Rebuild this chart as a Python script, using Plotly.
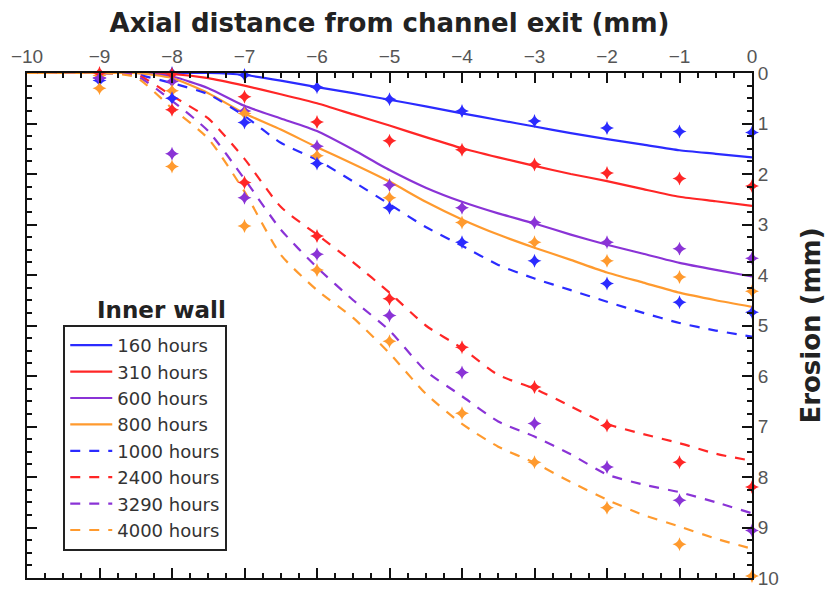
import plotly.graph_objects as go

# Measurement positions (mm from channel exit) and eroded depth (mm)
x_meas = [-9, -8, -7, -6, -5, -4, -3, -2, -1, 0]
meas_160 = [0.10, 0.00, 0.04, 0.28, 0.52, 0.75, 0.95, 1.09, 1.16, 1.18]
meas_310 = [-0.05, 0.02, 0.47, 0.97, 1.34, 1.52, 1.81, 1.98, 2.09, 2.24]
meas_600 = [0.10, 0.17, 0.75, 1.45, 2.22, 2.67, 2.96, 3.35, 3.48, 3.67]
meas_800 = [0.05, 0.35, 0.80, 1.64, 2.47, 2.96, 3.35, 3.72, 4.04, 4.32]
meas_1000 = [0.15, 0.50, 0.98, 1.79, 2.67, 3.35, 3.72, 4.17, 4.54, 4.74]
meas_2400 = [0.00, 0.73, 2.17, 3.23, 4.47, 5.43, 6.22, 6.98, 7.71, 8.20]
meas_3290 = [0.10, 1.60, 2.47, 3.59, 4.80, 5.93, 6.94, 7.80, 8.46, 9.06]
meas_4000 = [0.30, 1.85, 3.03, 3.90, 5.31, 6.74, 7.71, 8.61, 9.33, 9.96]

# Simulated erosion profiles
x_sim = [-10, -9, -8.5, -8, -7.5, -7, -6.5, -6, -5.5, -5,
         -4.5, -4, -3.5, -3, -2.5, -2, -1.5, -1, -0.5, 0]
sim_160 = [0, 0, 0, 0, 0.0, 0.04, 0.15, 0.28, 0.40, 0.53,
           0.66, 0.80, 0.93, 1.06, 1.19, 1.31, 1.42, 1.53, 1.60, 1.67]
sim_310 = [0, 0, 0, 0.02, 0.10, 0.25, 0.42, 0.60, 0.82, 1.04,
           1.27, 1.49, 1.67, 1.84, 2.00, 2.14, 2.30, 2.45, 2.54, 2.63]
sim_600 = [0, 0, 0, 0.07, 0.30, 0.65, 0.90, 1.15, 1.52, 1.92,
           2.27, 2.55, 2.78, 2.98, 3.20, 3.40, 3.58, 3.76, 3.90, 4.03]
sim_800 = [0, 0, 0, 0.10, 0.40, 0.80, 1.12, 1.47, 1.80, 2.15,
           2.55, 2.90, 3.20, 3.46, 3.70, 3.95, 4.15, 4.35, 4.50, 4.63]
sim_1000 = [0, 0, 0.03, 0.20, 0.42, 0.85, 1.38, 1.72, 2.15, 2.60,
            3.05, 3.42, 3.80, 4.07, 4.30, 4.53, 4.75, 4.95, 5.10, 5.22]
sim_2400 = [0, 0, 0.02, 0.45, 0.90, 1.70, 2.65, 3.20, 3.75, 4.35,
            5.00, 5.45, 5.98, 6.25, 6.60, 6.95, 7.15, 7.33, 7.54, 7.68]
sim_3290 = [0, 0, 0.05, 0.55, 1.15, 2.10, 3.10, 3.85, 4.50, 5.10,
            5.90, 6.40, 6.90, 7.20, 7.55, 7.95, 8.15, 8.30, 8.50, 8.72]
sim_4000 = [0, 0, 0.08, 0.70, 1.30, 2.35, 3.60, 4.30, 4.85, 5.55,
            6.35, 6.95, 7.40, 7.72, 8.10, 8.45, 8.75, 8.98, 9.22, 9.42]

labels = ["160 hours", "310 hours", "600 hours", "800 hours",
          "1000 hours", "2400 hours", "3290 hours", "4000 hours"]
meas = [meas_160, meas_310, meas_600, meas_800,
        meas_1000, meas_2400, meas_3290, meas_4000]
sims = [sim_160, sim_310, sim_600, sim_800,
        sim_1000, sim_2400, sim_3290, sim_4000]

BLUE, RED, PURPLE, ORANGE = "#2b2bff", "#ff2626", "#8a33d6", "#ff9a2e"
colors = [BLUE, RED, PURPLE, ORANGE] * 2
dashes = ["solid"] * 4 + ["10px,9px"] * 4

fig = go.Figure()

for lab, ys, c, d in zip(labels, sims, colors, dashes):
    fig.add_trace(go.Scatter(
        x=x_sim, y=ys, mode="lines", name=lab,
        line=dict(color=c, width=2.2, dash=d, shape="spline", smoothing=0.6),
    ))

for lab, ys, c in zip(labels, meas, colors):
    fig.add_trace(go.Scatter(
        x=x_meas, y=ys, mode="markers", name=lab, showlegend=False,
        cliponaxis=False,
        marker=dict(symbol="star-diamond", size=10, color=c, line=dict(width=0)),
    ))

axis_common = dict(
    showline=True, linecolor="#111", linewidth=2,
    ticks="inside", ticklen=10, tickwidth=2, tickcolor="#111",
    mirror="allticks", showgrid=False, zeroline=False, automargin=False,
    tickfont=dict(family="Liberation Sans", size=19, color="#555"),
)

fig.update_xaxes(
    **axis_common,
    side="top", range=[-10, 0], dtick=1, tick0=0,
    minor=dict(ticks="inside", ticklen=5, tickwidth=2, tickcolor="#111", dtick=0.25, tick0=0),
    title=dict(text="Axial distance from channel exit (mm)", standoff=6,
               font=dict(family="DejaVu Sans", size=26, color="#222", weight="bold")),
)
fig.update_yaxes(
    **axis_common,
    side="right", range=[10, 0], dtick=1, tick0=0,
    minor=dict(ticks="inside", ticklen=5, tickwidth=2, tickcolor="#111", dtick=0.25, tick0=0),
    title=dict(text="Erosion (mm)", standoff=24,
               font=dict(family="DejaVu Sans", size=26, color="#222", weight="bold")),
)

fig.add_annotation(
    text="Inner wall", xref="paper", yref="paper", x=0.185, y=0.53,
    showarrow=False, xanchor="center", yanchor="middle",
    font=dict(family="DejaVu Sans", size=23, color="#222", weight="bold"),
)

fig.update_layout(
    width=836, height=589,
    margin=dict(l=27, r=84, t=73, b=11),
    paper_bgcolor="white", plot_bgcolor="white",
    showlegend=True,
    legend=dict(
        x=0.05, y=0.501, xanchor="left", yanchor="top",
        bgcolor="white", bordercolor="#222", borderwidth=2,
        font=dict(family="DejaVu Sans", size=18, color="#333"),
        itemwidth=42, entrywidth=190, entrywidthmode="pixels",
    ),
)

fig.write_html("out.html")
